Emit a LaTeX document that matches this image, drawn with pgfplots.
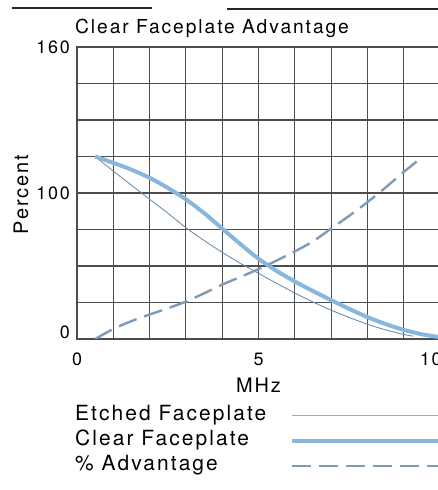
\documentclass[border=0pt]{standalone}
\usepackage{pgfplots}
\pgfplotsset{compat=1.18}
\usepackage{fontspec}
\setmainfont{TeX Gyre Heros}[LetterSpace=10]

\definecolor{gridgray}{HTML}{4D4D4D}
\definecolor{clearblue}{HTML}{88B6DC}
\definecolor{etchedline}{HTML}{6F8FAE}
\definecolor{advdash}{HTML}{7E9AB4}

\pgfplotstableread{
x y
0.5 100
1.0 92
1.5 84.3
2.0 76.6
2.5 69
3.0 61
3.5 54
4.0 47.5
4.5 41.5
5.0 36
5.5 30.5
6.0 25.2
6.5 20.3
7.0 15.8
7.5 11.8
8.0 8.1
8.5 5
9.0 2.5
9.25 1.6
}\etched

\pgfplotstableread{
x y
0.5 100
1.0 96.5
1.5 92.8
2.0 88.3
2.5 82.8
3.0 76.5
3.5 69
4.0 60.5
4.5 52
5.0 44
5.5 37.3
6.0 31.5
6.5 26.3
7.0 21.3
7.5 16.5
8.0 12
8.5 8.2
9.0 5
9.5 2.6
10.0 1
}\clear

\pgfplotstableread{
x y
0.5 0
1.0 5.5
1.5 9.8
2.0 13.4
2.5 16.8
3.0 20.5
3.5 25
4.0 29.8
4.5 34
5.0 38.3
5.5 43
6.0 48
6.5 53.5
7.0 60.5
7.5 67.5
8.0 75
8.5 83
9.0 91.5
9.5 99.5
}\advantage

\begin{document}
\begin{tikzpicture}
\path[use as bounding box] (0bp,0bp) rectangle (438bp,490bp);
% rule above the chart
\draw[line width=1.3bp, black!85] (12bp,482bp) -- (152bp,482bp);
\draw[line width=1.3bp, black!85] (227bp,481bp) -- (438bp,481bp);
\begin{axis}[
    at={(77bp,151bp)}, anchor=south west,
    scale only axis, width=363bp, height=292bp,
    xmin=0, xmax=10, ymin=0, ymax=160,
    xtick={0,5,10}, xticklabels={0,5,\makebox[40bp][l]{10}},
    minor xtick={1,2,3,4,6,7,8,9},
    ytick={0,80,160}, yticklabels={\raisebox{7bp}{0},100,160},
    minor ytick={20,40,60,100,120,140},
    grid=both,
    major grid style={gridgray, line width=1.1bp},
    minor grid style={gridgray, line width=1.1bp},
    axis line style={gridgray, line width=1.2bp},
    major tick length=0pt, minor tick length=0pt,
    /pgf/number format/assume math mode=true,
    tick label style={font=\fontsize{18}{20}\selectfont, inner sep=0pt},
    xticklabel style={anchor=base, yshift=-26bp},
    yticklabel style={anchor=base east, yshift=-6.5bp, xshift=-7bp},
    title={Clear Faceplate Advantage},
    title style={at={(axis description cs:0,1)}, anchor=base west, yshift=8bp, xshift=-2bp, inner sep=0pt, font=\fontsize{19.3}{21}\selectfont},
    xlabel={MHz},
    xlabel style={at={(axis description cs:0.5,0)}, anchor=base, yshift=-53bp, inner sep=0pt, font=\fontsize{20}{22}\selectfont},
    ylabel={Percent},
    ylabel style={at={(axis description cs:0,0.495)}, anchor=base, yshift=49bp, inner sep=0pt, font=\fontsize{20}{22}\selectfont},
    legend plot pos=right,
    legend cell align=left,
    legend image code/.code={\draw[#1] (0bp,0bp) -- (150bp,0bp);},
    legend style={at={(axis description cs:0,0)}, anchor=north west, xshift=-4bp, yshift=-64bp,
        draw=none, fill=none, inner sep=0pt, font=\fontsize{21}{23}\selectfont,
        row sep=0bp, column sep=22bp,
        nodes={inner xsep=2bp, inner ysep=2.5bp, text height=15bp, text depth=5bp}},
]
\addplot[etchedline, line width=0.9bp, smooth, forget plot] table {\etched};
\addlegendimage{black!35, line width=0.8bp}
\addlegendentry{Etched Faceplate}
\addplot[clearblue, line width=4bp, smooth] table {\clear};
\addlegendentry{Clear Faceplate}
\addplot[advdash, line width=2.4bp, dash pattern=on 19bp off 8bp, smooth] table {\advantage};
\addlegendentry{\% Advantage}
\end{axis}
\end{tikzpicture}
\end{document}
